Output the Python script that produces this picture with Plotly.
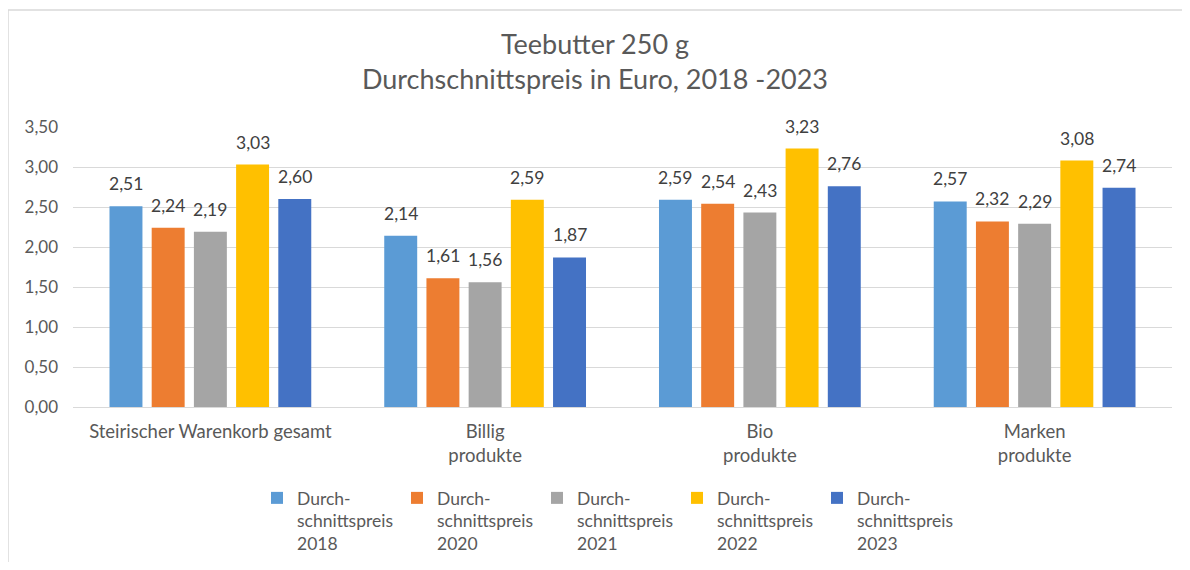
import plotly.graph_objects as go

categories = ["Steirischer Warenkorb gesamt", "Billig<br>produkte", "Bio<br>produkte", "Marken<br>produkte"]
series_names = ["Durch-<br>schnittspreis<br>2018", "Durch-<br>schnittspreis<br>2020",
                "Durch-<br>schnittspreis<br>2021", "Durch-<br>schnittspreis<br>2022",
                "Durch-<br>schnittspreis<br>2023"]
v2018 = [2.51, 2.14, 2.59, 2.57]
v2020 = [2.24, 1.61, 2.54, 2.32]
v2021 = [2.19, 1.56, 2.43, 2.29]
v2022 = [3.03, 2.59, 3.23, 3.08]
v2023 = [2.60, 1.87, 2.76, 2.74]
series_values = [v2018, v2020, v2021, v2022, v2023]
colors = ["#5B9BD5", "#ED7D31", "#A5A5A5", "#FFC000", "#4472C4"]

# page body has an 8px margin; work in figure coordinates
OFF = 8
W, H = 1190 - 2 * OFF, 570 - 2 * OFF
L, R, T, B = 73 - OFF, 1172 - OFF, 127 - OFF, 407 - OFF

BARGAP = 0.232
GROUPGAP = 0.219
n = len(series_values)
cat_px = (R - L) / len(categories)
slot_px = cat_px * (1 - BARGAP) / n

def px2x(px):
    return (px - L) / (R - L)

def py2y(py):
    return (B - py) / (B - T)

fig = go.Figure()
annotations = []
for i, (name, vals, col) in enumerate(zip(series_names, series_values, colors)):
    fig.add_trace(go.Bar(
        x=categories, y=vals, name=name, marker_color=col, marker_line_width=0,
    ))
    for c, v in zip(categories, vals):
        annotations.append(dict(
            x=c, y=v, xref="x", yref="y", text=f"{v:.2f}".replace(".", ","),
            showarrow=False, yanchor="bottom", yshift=10,
            xshift=(i - (n - 1) / 2) * slot_px,
            font=dict(size=17.5, color="#404040"),
        ))

fig.update_layout(
    width=W, height=H,
    margin=dict(l=L, r=W - R, t=T, b=H - B, autoexpand=False),
    paper_bgcolor="white", plot_bgcolor="white",
    font=dict(family="Lato, Open Sans, sans-serif", color="#595959", size=17),
    separators=",.",
    barmode="group", bargap=BARGAP, bargroupgap=GROUPGAP,
    title=dict(text="Teebutter 250 g<br>Durchschnittspreis in Euro, 2018 -2023",
               x=0.5, xanchor="center", y=1 - 45.5 / H, yanchor="middle",
               font=dict(size=27, color="#595959")),
    showlegend=True,
    legend=dict(orientation="h", x=px2x(275 - 26), xanchor="left", y=py2y(472), yanchor="top",
                entrywidth=95, entrywidthmode="pixels", valign="top",
                font=dict(size=17.5, color="#595959"), traceorder="normal",
                itemclick=False),
    yaxis=dict(range=[0, 3.5], dtick=0.5, tickformat=".2f", showgrid=True,
               gridcolor="#D9D9D9", gridwidth=1, zeroline=False, showline=False,
               ticks="", tickfont=dict(size=17, color="#595959"), ticklabelstandoff=14),
    xaxis=dict(showline=True, linecolor="#D9D9D9", linewidth=1, ticks="",
               tickfont=dict(size=18.5, color="#595959"), ticklabelstandoff=8),
    annotations=annotations,
    shapes=[dict(type="rect", xref="paper", yref="paper",
                 x0=px2x(0), x1=px2x(W + 10), y0=py2y(H + 10), y1=py2y(2),
                 line=dict(color="#D9D9D9", width=1.5), fillcolor="rgba(0,0,0,0)", layer="below")],
)

fig.write_html("out.html")
